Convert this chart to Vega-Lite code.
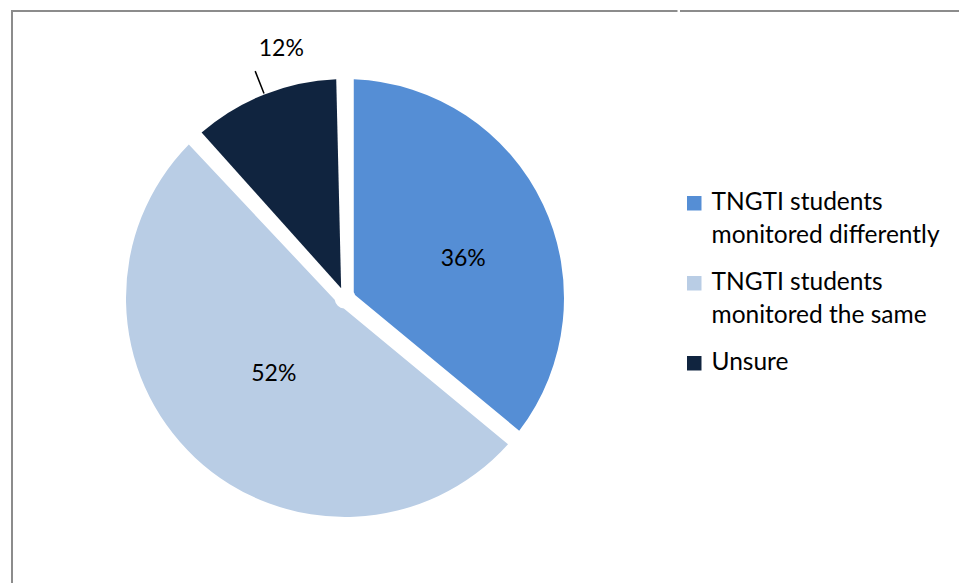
{
  "$schema": "https://vega.github.io/schema/vega-lite/v6.json",
  "autosize": {"type": "pad"},
  "padding": {"left": 11, "top": 10, "right": 0, "bottom": 0},
  "background": "white",
  "spacing": 0,
  "config": {
    "view": {"stroke": "#8c8c8c", "strokeWidth": 2},
    "font": "Lato",
    "style": {"guide-label": {"lineHeight": 33}}
  },
  "data": {
    "values": [
      {"category": "TNGTI students monitored differently", "share": 36},
      {"category": "TNGTI students monitored the same", "share": 52},
      {"category": "Unsure", "share": 12}
    ]
  },
  "transform": [
    {"stack": "share", "groupby": [], "as": ["v0", "v1"], "sort": [{"field": "category", "order": "ascending"}]},
    {"calculate": "(datum.v0 + datum.v1) / 2", "as": "mid"},
    {"calculate": "datum.share + '%'", "as": "label"}
  ],
  "hconcat": [
    {
      "width": 666,
      "height": 574,
      "view": {"stroke": "#8c8c8c", "strokeWidth": 2, "strokeDash": [665.5, 1240.5, 600]},
      "layer": [
        {
          "mark": {"type": "arc", "padAngle": 0.08, "radius": 219, "radius2": 10.5},
          "encoding": {
            "theta": {"field": "v0", "type": "quantitative", "scale": {"domain": [0, 100]}},
            "theta2": {"field": "v1"},
            "color": {
              "field": "category",
              "type": "nominal",
              "scale": {
                "domain": ["TNGTI students monitored differently", "TNGTI students monitored the same", "Unsure"],
                "range": ["#558ED5", "#B9CDE5", "#10243F"]
              },
              "legend": {
                "orient": "none",
                "legendX": 670,
                "legendY": 180,
                "title": null,
                "symbolType": "square",
                "symbolSize": 210,
                "symbolStrokeWidth": 0,
                "labelFontSize": 24.5,
                "labelFont": "Lato",
                "labelColor": "#000000",
                "labelLimit": 400,
                "labelOffset": 5,
                "rowPadding": 22,
                "labelExpr": "datum.label === 'Unsure' ? 'Unsure' : ['TNGTI students', slice(datum.label, 15)]"
              }
            }
          }
        },
        {
          "transform": [{"filter": "datum.category === 'TNGTI students monitored differently'"}],
          "mark": {"type": "text", "radius": 124, "dx": 6, "dy": 14, "fontSize": 23, "font": "Lato", "color": "#000000"},
          "encoding": {
            "theta": {"field": "mid", "type": "quantitative", "scale": {"domain": [0, 100]}},
            "text": {"field": "label"}
          }
        },
        {
          "transform": [{"filter": "datum.category === 'TNGTI students monitored the same'"}],
          "mark": {"type": "text", "radius": 104, "fontSize": 23, "font": "Lato", "color": "#000000"},
          "encoding": {
            "theta": {"field": "mid", "type": "quantitative", "scale": {"domain": [0, 100]}},
            "text": {"field": "label"}
          }
        },
        {
          "transform": [{"filter": "datum.category === 'Unsure'"}],
          "mark": {"type": "text", "radius": 268, "dx": 35, "fontSize": 23, "font": "Lato", "color": "#000000"},
          "encoding": {
            "theta": {"field": "mid", "type": "quantitative", "scale": {"domain": [0, 100]}},
            "text": {"field": "label"}
          }
        },
        {
          "transform": [{"filter": "datum.category === 'Unsure'"}],
          "mark": {"type": "arc", "radius": 220, "radius2": 244, "fill": "transparent", "stroke": "#000000", "strokeWidth": 1.5},
          "encoding": {
            "theta": {"field": "mid", "type": "quantitative", "scale": {"domain": [0, 100]}},
            "theta2": {"field": "mid"}
          }
        }
      ]
    },
    {
      "width": 290,
      "height": 574,
      "view": {"stroke": "#8c8c8c", "strokeWidth": 2, "strokeDash": [290, 3000]},
      "mark": {"type": "text"},
      "encoding": {"text": {"value": ""}}
    }
  ]
}
